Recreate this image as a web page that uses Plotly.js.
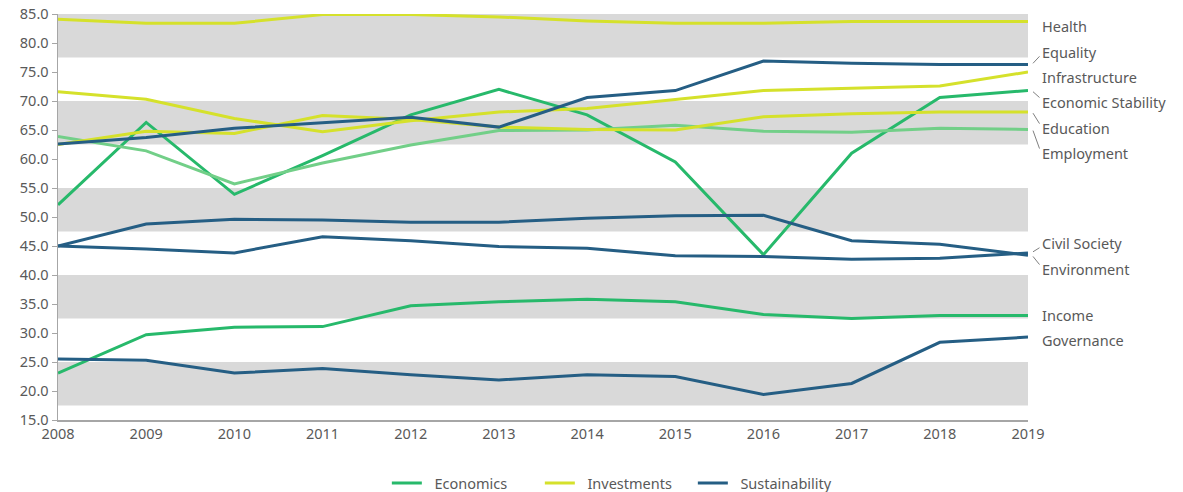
<!DOCTYPE html>
<html>
<head>
<meta charset="utf-8">
<script src="https://cdn.plot.ly/plotly-3.0.1.min.js"></script>
<style>html,body{margin:0;padding:0;background:#fff;}#chart{width:1183px;height:492px;}</style>
</head>
<body>
<div id="chart"></div>
<script>
const years = [2008,2009,2010,2011,2012,2013,2014,2015,2016,2017,2018,2019];

// Economics
const economicStability = [52.1,66.3,53.9,60.6,67.6,72.0,67.6,59.5,43.5,61.0,70.6,71.8];
const employment        = [63.9,61.4,55.7,59.3,62.4,64.9,65.0,65.8,64.8,64.6,65.3,65.1];
const income            = [23.1,29.7,31.0,31.1,34.7,35.4,35.8,35.4,33.2,32.5,33.0,33.0];
// Investments
const health            = [84.1,83.4,83.4,84.9,84.9,84.5,83.8,83.4,83.4,83.7,83.7,83.7];
const infrastructure    = [71.6,70.3,67.0,64.7,66.6,68.1,68.7,70.3,71.8,72.2,72.6,75.0];
const education         = [62.5,64.8,64.4,67.5,66.8,65.5,65.1,65.0,67.3,67.8,68.1,68.1];
// Sustainability
const equality          = [62.6,63.7,65.3,66.3,67.2,65.5,70.6,71.8,76.9,76.5,76.3,76.3];
const civilSociety      = [45.0,44.5,43.8,46.6,45.9,44.9,44.6,43.3,43.2,42.7,42.9,43.8];
const environment       = [45.0,48.8,49.6,49.5,49.1,49.1,49.8,50.2,50.3,45.9,45.3,43.4];
const governance        = [25.5,25.3,23.1,23.9,22.8,21.9,22.8,22.5,19.4,21.3,28.4,29.3];

const groupNames = ["Economics","Investments","Sustainability"];
const bandStarts = [17.5,32.5,47.5,62.5,77.5];
const bandWidth = 7.5;

const C_ECO = "#27b96b", C_EMP = "#72cf88", C_INV = "#d5e12b", C_SUS = "#255e84";
const series = [
  {name:"Economic Stability", y:economicStability, color:C_ECO, group:0, labelY:69.8, conn:true},
  {name:"Employment", y:employment, color:C_EMP, group:0, labelY:61.0, conn:true},
  {name:"Income", y:income, color:C_ECO, group:0, labelY:33.1, conn:false},
  {name:"Health", y:health, color:C_INV, group:1, labelY:82.9, conn:false},
  {name:"Infrastructure", y:infrastructure, color:C_INV, group:1, labelY:74.1, conn:false},
  {name:"Education", y:education, color:C_INV, group:1, labelY:65.3, conn:true},
  {name:"Equality", y:equality, color:C_SUS, group:2, labelY:78.5, conn:true},
  {name:"Civil Society", y:civilSociety, color:C_SUS, group:2, labelY:45.5, conn:true},
  {name:"Environment", y:environment, color:C_SUS, group:2, labelY:41.0, conn:true},
  {name:"Governance", y:governance, color:C_SUS, group:2, labelY:28.8, conn:false}
];

const shown = {};
const traces = series.map(s => {
  const g = groupNames[s.group];
  const first = !shown[g] && s.color !== C_EMP;
  if (first) shown[g] = true;
  return {
    x: years, y: s.y, type:"scatter", mode:"lines",
    name: "\u00a0\u00a0" + g, legendgroup: g, showlegend: first,
    legendrank: s.group + 1,
    line:{color:s.color, width:3},
    hoverinfo:"skip"
  };
});

const plotW = 1183 - 58 - 155;
const shapes = bandStarts.map(b => ({
  type:"rect", xref:"paper", yref:"y", x0:0, x1:1, y0:b, y1:Math.min(b+bandWidth,85.2),
  fillcolor:"#d9d9d9", line:{width:0}, layer:"below"
}));
const annotations = [];
series.forEach(s => {
  const last = s.y[s.y.length-1];
  if (s.conn) {
    const up = s.labelY > last;
    shapes.push({type:"line", xref:"paper", yref:"y", x0:1 + 5/plotW, x1:1 + 11.5/plotW,
      y0:last + (up ? 0.2 : -0.2), y1: s.labelY + (up ? -0.8 : 0.8), line:{color:"#7f7f7f", width:1}});
  }
  annotations.push({xref:"x", yref:"y", x:2019, y:s.labelY, xshift:12, xanchor:"left", yanchor:"middle",
    text:s.name, showarrow:false, font:{family:"Noto Sans, sans-serif", size:14.5, color:"#595959"}});
});

const layout = {
  width:1183, height:492,
  margin:{l:58, r:155, t:14, b:72},
  paper_bgcolor:"#fff", plot_bgcolor:"rgba(0,0,0,0)",
  font:{family:"Noto Sans, sans-serif", size:14, color:"#595959"},
  showlegend:true,
  legend:{orientation:"h", xref:"container", yref:"container", x:0.521, xanchor:"center", y:0.018, yanchor:"middle",
    font:{size:14.5, color:"#595959"}, itemwidth:30, entrywidth:108, entrywidthmode:"pixels", traceorder:"normal"},
  xaxis:{range:[2008,2019], tickvals:years, ticktext:years.map(String), showgrid:false, zeroline:false,
    showline:true, linecolor:"#a6a6a6", linewidth:1.5, ticks:"", tickfont:{size:14.5, color:"#595959"}, fixedrange:true},
  yaxis:{range:[15,85], dtick:5, tickformat:".1f", showgrid:false, zeroline:false,
    showline:true, linecolor:"#a6a6a6", linewidth:1.5, ticks:"outside", ticklen:5, tickcolor:"#a6a6a6",
    tickfont:{size:14.5, color:"#595959"}, fixedrange:true},
  shapes:shapes, annotations:annotations
};
Plotly.newPlot("chart", traces, layout, {displayModeBar:false, staticPlot:true});
</script>
</body>
</html>
